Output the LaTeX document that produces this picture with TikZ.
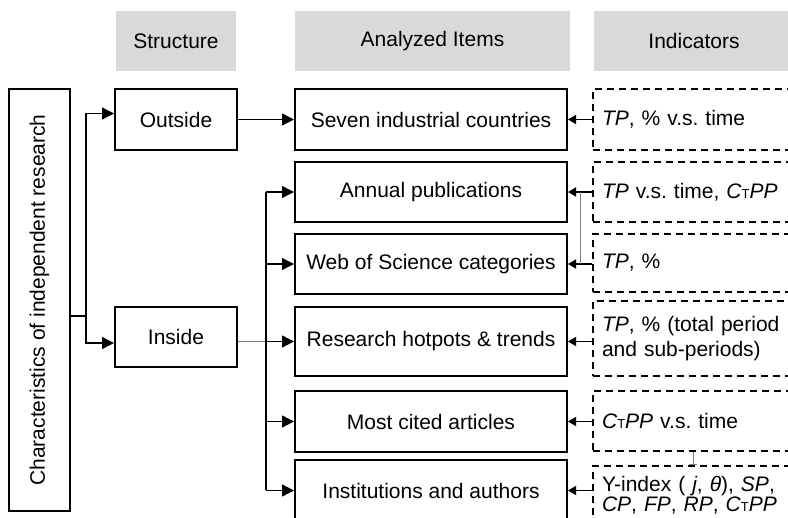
\documentclass[tikz,border=0pt]{standalone}
\usepackage{fontspec}
\setmainfont{Liberation Sans}
\usetikzlibrary{arrows.meta, calc}
\frenchspacing

\definecolor{hdrgray}{HTML}{D9D9D9}
\definecolor{linkgray}{HTML}{7F7F7F}

\newcommand{\ctpp}{\textit{C}{\fontsize{6.5}{6}\selectfont T}\textit{PP}}

\begin{document}
\begin{tikzpicture}[x=0.5pt, y=-0.5pt,
			font=\fontsize{10.5}{12.5}\selectfont,
			hdr/.style={fill=hdrgray, minimum height=30pt, inner sep=0pt},
			box/.style={draw, line width=1pt, inner sep=0pt},
			indbox/.style={draw, line width=1pt, dash pattern=on 3.5pt off 2.5pt,
				inner xsep=4.5pt, inner ysep=0pt, text width=110pt, align=left},
			arr/.style={-{Triangle[length=6pt,width=6pt]}, line width=0.7pt},
			back/.style={-{Triangle[length=4pt,width=4.5pt]}, line width=0.7pt},
			link/.style={linkgray, line width=0.5pt}]
			
			\useasboundingbox (0,0) rectangle (788,518);
			
			% column headers
			\node[hdr, minimum width=60pt] (hstruct) at (176,41) {Structure};
			\node[hdr, minimum width=137.5pt] (hitems) at (432.5,41) {Analyzed Items};
			\node[hdr, minimum width=100pt] (hind) at (694,41) {Indicators};
			
			% structure
			\node[box, minimum width=30.5pt, minimum height=211pt] (charbox) at (39.5,300) {};
			\node[rotate=90] (chartext) at (charbox.center) {Characteristics of independent research};
			\node[box, minimum width=61pt, minimum height=30.5pt] (outside) at (176,119.5) {Outside};
			\node[box, minimum width=61pt, minimum height=30pt] (inside) at (176,337) {Inside};
			
			% analyzed items
			\node[box, minimum width=136pt, minimum height=30.5pt] (seven) at (431,119.5) {Seven industrial countries};
			\node[box, minimum width=136pt, minimum height=30pt] (annual) at (431,192) {Annual publications};
			\node[box, minimum width=136pt, minimum height=30pt] (wos) at (431,264) {Web of Science categories};
			\node[box, minimum width=136pt, minimum height=34.5pt] (hot) at (431,341.5) {Research hotpots \& trends};
			\node[box, minimum width=136pt, minimum height=30.5pt] (cited) at (431,421.5) {Most cited articles};
			\node[box, minimum width=136pt, minimum height=30.5pt] (inst) at (431,490.5) {Institutions and authors};
			
			% indicators
			\node[indbox, minimum height=30.5pt] (ind1) at (712,119.5) {\textit{TP}, \% v.s. time};
			\node[indbox, minimum height=30pt] (ind2) at (712,192) {\textit{TP} v.s. time, \ctpp};
			\node[indbox, minimum height=29pt] (ind3) at (712,263) {\textit{TP}, \%};
			\node[indbox, minimum height=37.5pt] (ind4) at (712,338.5) {\textit{TP}, \% (total period\\and sub-periods)};
			\node[indbox, minimum height=30pt] (ind5) at (712,421) {\ctpp\ v.s. time};
			\node[indbox, minimum height=29pt, font=\fontsize{10.5}{10}\selectfont] (ind6) at (712,495)
				{Y-index ( \textit{j}, \textit{θ}), \textit{SP},\\\textit{CP}, \textit{FP}, \textit{RP}, \ctpp};
			
			% connectors
			\coordinate (split) at (86,316);
			\draw[line width=0.7pt] (charbox.east |- split) -- (split);
			\draw[arr] (split) |- ([yshift=3pt]outside.west);
			\draw[arr] (split) |- ([yshift=-3pt]inside.west);
			\draw[arr] (outside.east) -- (outside.east -| seven.west);
			
			\coordinate (bus) at (266,0);
			\draw[link] (inside.east |- hot.west) -- (bus |- hot.west);
			\draw[line width=0.7pt] (bus |- annual.west) -- (bus |- inst.west);
			\foreach \n in {annual, wos, hot, cited, inst}
				\draw[arr] (bus |- \n.west) -- (\n.west);
			
			\foreach \i/\n in {ind1/seven, ind2/annual, ind3/wos, ind4/hot, ind5/cited, ind6/inst}
				\draw[back] (\i.west |- \n.east) -- (\n.east);
			
			\coordinate (jn) at ($(annual.east)!0.5!(ind2.west |- annual.east)$);
			\draw[link] (jn) -- (jn |- wos.east);
			
			\coordinate (teex) at (693,0);
			\draw[link, -{Bar[width=4pt]}] (ind5.south -| teex) -- (ind6.north -| teex);
		\end{tikzpicture}
\end{document}
